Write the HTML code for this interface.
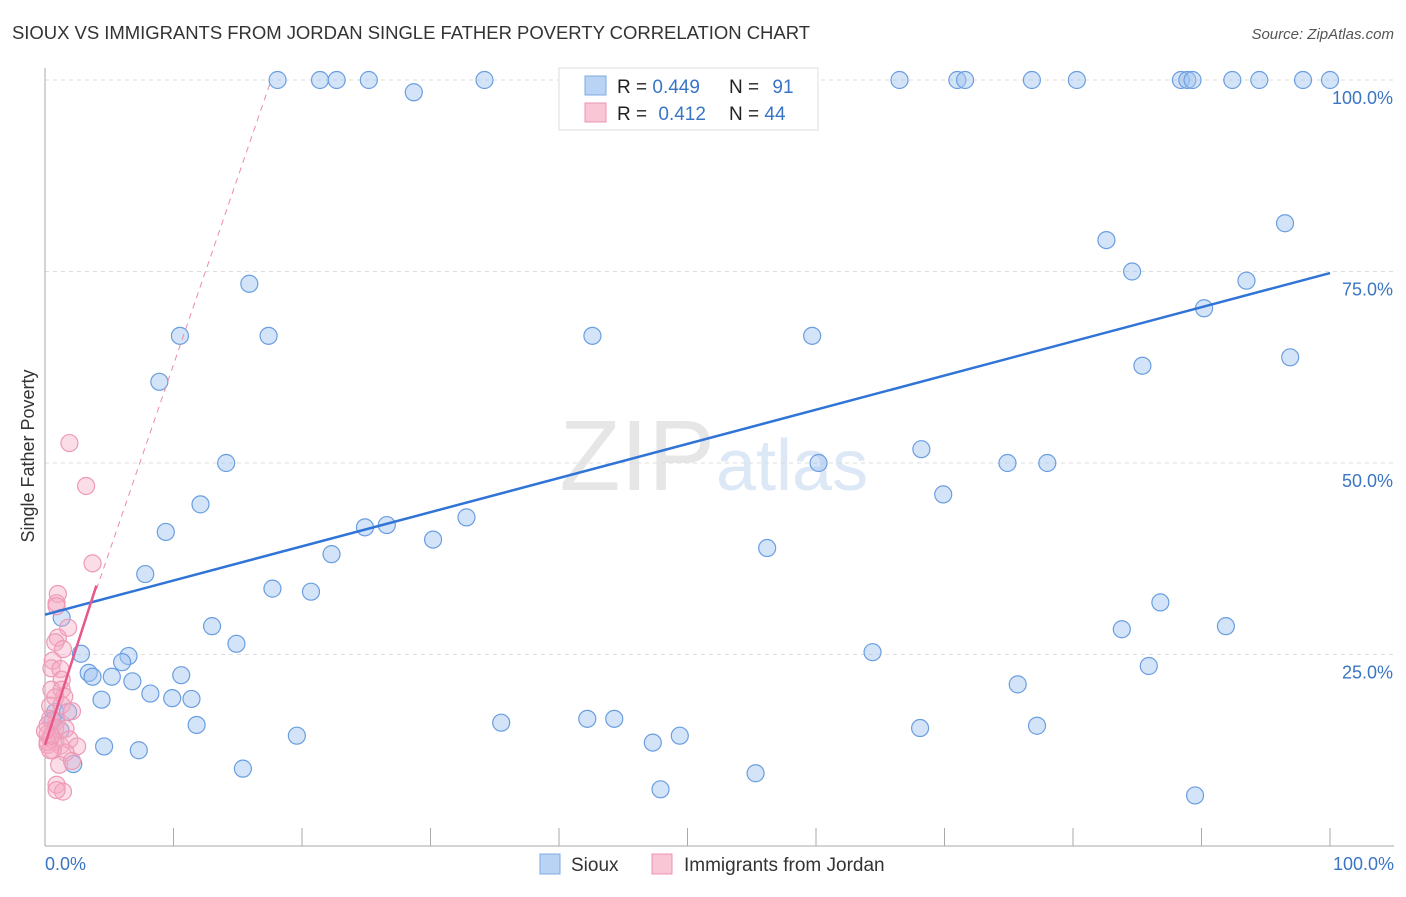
<!DOCTYPE html>
<html><head><meta charset="utf-8"><style>
body{margin:0;background:#fff;font-family:"Liberation Sans",sans-serif;}
svg text{font-family:"Liberation Sans",sans-serif;}
</style></head><body>
<svg id="chart" width="1406" height="892">
<text x="12" y="39" font-size="18.5" fill="#333" textLength="798">SIOUX VS IMMIGRANTS FROM JORDAN SINGLE FATHER POVERTY CORRELATION CHART</text>
<text x="1394" y="39" font-size="15" fill="#555" font-style="italic" text-anchor="end">Source: ZipAtlas.com</text>
<text x="715" y="490" font-size="100" fill="#e6e6e6" text-anchor="end" font-family="Liberation Serif">ZIP</text>
<text x="716" y="490" font-size="72" fill="#dce8f6">atlas</text>
<g id="grid"></g>
<g id="axes"></g>
<g id="marks"></g>
<text transform="translate(34,456) rotate(-90)" font-size="18" fill="#333" text-anchor="middle">Single Father Poverty</text>
<text x="45" y="870" font-size="18" fill="#3a75c4">0.0%</text>
<text x="1394" y="870" font-size="18" fill="#3a75c4" text-anchor="end">100.0%</text>
<g>
<rect x="559" y="68" width="259" height="62" fill="#fff" stroke="#ddd"/>
<rect x="585" y="76" width="21" height="19" fill="#b8d3f4" stroke="#7ea9e0"/>
<rect x="585" y="103" width="21" height="19" fill="#f9c6d5" stroke="#ec94b0"/>
<text x="617" y="93" font-size="19" fill="#222">R = <tspan fill="#3a75c4">0.449</tspan></text>
<text x="729" y="93" font-size="19" fill="#222">N = <tspan fill="#3a75c4" dx="8">91</tspan></text>
<text x="617" y="120" font-size="19" fill="#222">R = <tspan fill="#3a75c4" dx="6">0.412</tspan></text>
<text x="729" y="120" font-size="19" fill="#222">N = <tspan fill="#3a75c4">44</tspan></text>
</g>
<g>
<rect x="540" y="854" width="20" height="20" fill="#b8d3f4" stroke="#7ea9e0"/>
<text x="571" y="871" font-size="19" fill="#333">Sioux</text>
<rect x="652" y="854" width="20" height="20" fill="#f9c6d5" stroke="#ec94b0"/>
<text x="684" y="871" font-size="19" fill="#333">Immigrants from Jordan</text>
</g>
</svg>
<script>
const yTicks=[25,50,75,100];
const yTickLabels=["25.0%","50.0%","75.0%","100.0%"];
const xTicks=[10,20,30,40,50,60,70,80,90,100];
const siouxX=[18.1,21.4,22.7,25.2,28.7,34.2,52,66.5,71,71.6,76.8,80.3,88.4,88.9,89.3,92.4,94.5,97.9,100,82.6,96.5,84.6,93.5,90.2,15.9,10.5,17.4,42.6,59.7,85.4,96.9,8.9,14.1,68.2,74.9,78,60.2,69.9,12.1,9.4,24.9,26.6,32.8,30.2,56.2,22.3,7.8,17.7,20.7,1.3,86.8,83.8,91.9,13,14.9,2.8,6.5,6,3.4,10.6,5.2,3.7,6.8,64.4,85.9,75.7,8.2,9.9,11.4,4.4,35.5,42.2,44.3,11.8,68.1,77.2,19.6,49.4,47.3,4.6,7.3,55.3,15.4,2.2,47.9,89.5,0.8,1.8,1.2,0.6];
const siouxY=[100,100,100,100,98.4,100,100,100,100,100,100,100,100,100,100,100,100,100,100,79.1,81.3,75,73.8,70.2,73.4,66.6,66.6,66.6,66.6,62.7,63.8,60.6,50,51.8,50,50,50,45.9,44.6,41,41.6,41.9,42.9,40,38.9,38.1,35.5,33.6,33.2,29.8,31.8,28.3,28.7,28.7,26.4,25.1,24.8,24,22.6,22.3,22.1,22.1,21.5,25.3,23.5,21.1,19.9,19.3,19.2,19.1,16.1,16.6,16.6,15.8,15.4,15.7,14.4,14.4,13.5,13,12.5,9.5,10.1,10.7,7.4,6.6,17.5,17.5,15.1,16.4];
const jordanX=[1.9,3.2,3.7,1,0.9,0.9,1.8,1,0.8,1.4,0.6,0.5,1.2,1.3,0.5,1.3,1.5,0.8,0.4,1.3,2.1,0.4,0.9,0.2,0.8,1.6,0.2,0.4,0.8,1.2,1.9,0.2,2.5,1.6,0.6,1.1,2.1,0.9,1.4,0.9,0.2,0.4,0.5,0];
const jordanY=[52.6,47,36.9,32.9,31.7,31.3,28.5,27.2,26.6,25.7,24.2,23.2,23.1,21.7,20.4,20.4,19.5,19.4,18.3,18.4,17.6,16.6,16.3,15.8,15.4,15.3,14.6,14,13.6,13.1,13.9,13.2,13,12.2,12.5,10.6,11.1,8,7.1,7.3,13.6,12.5,14.4,15];
const X0=45,X1=1330,Y0=846,Y1=80;
const sx=v=>X0+(X1-X0)*v/100, sy=v=>Y0-(Y0-Y1)*v/100;
const NS="http://www.w3.org/2000/svg";
function mk(tag,attrs,parent){const e=document.createElementNS(NS,tag);for(const k in attrs)e.setAttribute(k,attrs[k]);document.getElementById(parent).appendChild(e);return e;}
yTicks.forEach((t,i)=>{
 const g=mk('line',{x1:X0,x2:1394,y1:sy(t),y2:sy(t),stroke:'#ddd','stroke-dasharray':'4,4'},'grid');
 
 
 const l=mk('text',{x:1393,y:sy(t)+24,'font-size':18,fill:'#3a75c4','text-anchor':'end'},'grid');
 l.textContent=yTickLabels[i];
 
 
});
const ya=mk('line',{x1:X0,x2:X0,y1:68,y2:Y0,stroke:'#aaa'},'axes');


const xa=mk('line',{x1:X0,x2:1394,y1:Y0,y2:Y0,stroke:'#aaa'},'axes');


xTicks.forEach(t=>{
 const k=mk('line',{x1:sx(t),x2:sx(t),y1:Y0,y2:Y0-18,stroke:'#aaa'},'axes');
 
 
});
siouxX.forEach((x,i)=>{
 const c=mk('circle',{cx:sx(x),cy:sy(siouxY[i]),r:8.5,fill:'rgba(160,195,240,0.45)',stroke:'#6a9ee0','stroke-width':1.2},'marks');
 
 
});
jordanX.forEach((x,i)=>{
 const c=mk('circle',{cx:sx(x),cy:sy(jordanY[i]),r:8.5,fill:'rgba(245,170,195,0.4)',stroke:'#ee9ab5','stroke-width':1.2},'marks');
 
 
});
const bt=mk('line',{x1:sx(0),y1:sy(30.2),x2:sx(100),y2:sy(74.8),stroke:'#2f74d6','stroke-width':2.5},'marks');


const pd=mk('line',{x1:sx(4),y1:sy(33.5),x2:sx(17.5),y2:sy(99.5),stroke:'#ee8aaa','stroke-width':1,'stroke-dasharray':'6,5'},'marks');


const ps=mk('line',{x1:sx(0),y1:sy(13.2),x2:sx(4),y2:sy(34),stroke:'#e8578a','stroke-width':2.5},'marks');


</script>
</body></html>
